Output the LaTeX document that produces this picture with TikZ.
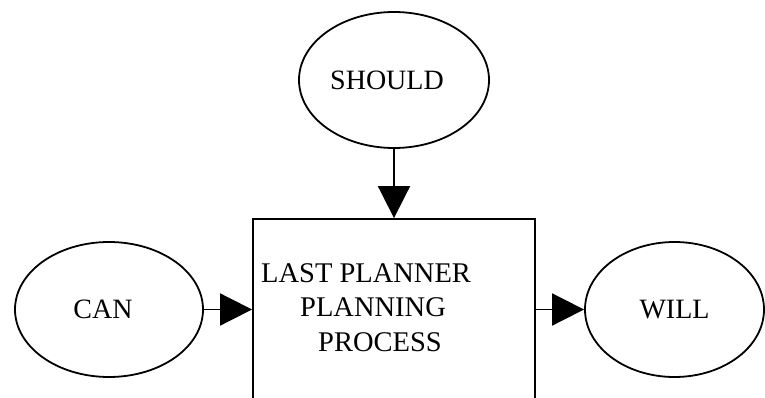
\documentclass[tikz,border=0pt]{standalone}
\usepackage{fontspec}
\setmainfont{Liberation Serif}
\usetikzlibrary{arrows.meta,shapes.geometric}
\begin{document}
\begin{tikzpicture}[x=1pt,y=-1pt,
  oval/.style={draw,ellipse,line width=1.8pt,inner sep=0pt,font=\fontsize{28}{34}\selectfont},
  boxnode/.style={draw,rectangle,line width=1.8pt,inner sep=0pt},
  flow/.style={line width=1.8pt,-{Triangle[length=32pt,width=32pt]}}]
\useasboundingbox (0,0) rectangle (765,398);
\clip (0,0) rectangle (765,398);
\node[oval,minimum width=190pt,minimum height=136pt] (should) at (394,80) {SHOULD\hspace*{14pt}};
\node[oval,minimum width=188pt,minimum height=135pt] (can) at (109,309.5) {CAN\hspace*{12pt}};
\node[oval,minimum width=179pt,minimum height=135pt] (will) at (674.5,309.5) {WILL};
\node[boxnode,minimum width=282pt,minimum height=202pt] (box) at (394,320) {};
\node[font=\fontsize{28.5}{34.5}\selectfont,align=left,anchor=north west,inner sep=0pt] (txt) at (261,263)
  {LAST PLANNER\\\hspace*{39pt}PLANNING\\\hspace*{57pt}PROCESS};
\draw[flow] (should.south) -- (should.south |- box.north);
\draw[flow] (can.east) -- (can.east -| box.west);
\draw[flow] (box.east |- will.west) -- (will.west);
\end{tikzpicture}
\end{document}
